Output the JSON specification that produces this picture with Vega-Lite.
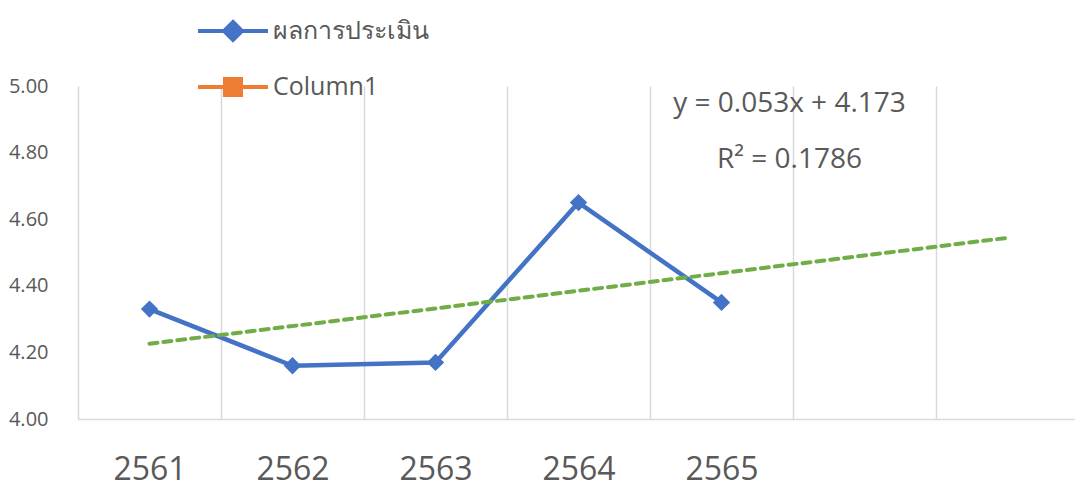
{
  "$schema": "https://vega.github.io/schema/vega-lite/v6.json",
  "autosize": {"type": "none"},
  "width": 1001,
  "height": 333,
  "padding": {"left": 78, "top": 86, "right": 0, "bottom": 68},
  "config": {"view": {"stroke": null}, "font": "Open Sans"},
  "datasets": {
    "scores": [
      {"year": 2561, "series": "ผลการประเมิน", "score": 4.33},
      {"year": 2562, "series": "ผลการประเมิน", "score": 4.16},
      {"year": 2563, "series": "ผลการประเมิน", "score": 4.17},
      {"year": 2564, "series": "ผลการประเมิน", "score": 4.65},
      {"year": 2565, "series": "ผลการประเมิน", "score": 4.35}
    ],
    "trend": [
      {"year": 2561, "trend": 4.226},
      {"year": 2567, "trend": 4.544}
    ],
    "labels": [
      {"equation": "y = 0.053x + 4.173", "r2": "R² = 0.1786"}
    ]
  },
  "layer": [
    {
      "data": {"name": "scores"},
      "mark": {"type": "line", "strokeWidth": 4.5, "strokeJoin": "round"},
      "encoding": {
        "x": {
          "field": "year", "type": "ordinal",
          "scale": {"type": "band", "domain": [2561, 2562, 2563, 2564, 2565, 2566, 2567], "paddingInner": 0, "paddingOuter": 0},
          "axis": {
            "title": null, "tickBand": "extent", "grid": true, "gridColor": "#D9D9D9", "gridWidth": 1.5,
            "domainColor": "#D9D9D9", "domainWidth": 1.5, "ticks": false, "labelAngle": 0,
            "labelExpr": "datum.value <= 2565 ? datum.label : ''",
            "labelFontSize": 32, "labelColor": "#595959", "labelPadding": 35, "labelFont": "Open Sans"
          }
        },
        "y": {
          "field": "score", "type": "quantitative",
          "scale": {"domain": [4, 5], "nice": false, "zero": false},
          "axis": {
            "title": null, "values": [4, 4.2, 4.4, 4.6, 4.8, 5], "format": ".2f", "grid": false,
            "domain": false, "ticks": false, "labelFontSize": 20, "labelColor": "#595959",
            "labelPadding": 30, "labelFont": "Open Sans"
          }
        },
        "color": {
          "field": "series", "type": "nominal",
          "scale": {"domain": ["ผลการประเมิน", "Column1"], "range": ["#4472C4", "#ED7D31"]},
          "legend": {
            "orient": "none", "legendX": 133, "legendY": -77, "title": null,
            "labelFontSize": 25, "labelColor": "#595959", "labelFont": "Open Sans",
            "symbolSize": 1600, "symbolStrokeWidth": 4, "labelOffset": 18, "rowPadding": 17,
            "encode": {
              "symbols": {
                "update": {
                  "shape": {"signal": "datum.value === 'Column1' ? 'M-1.75,0H1.75M-0.4,-0.4H0.4V0.4H-0.4Z' : 'M-1.75,0H1.75M0,-0.45L0.45,0L0,0.45L-0.45,0Z'"},
                  "fill": {"scale": "color", "field": "value"},
                  "stroke": {"scale": "color", "field": "value"},
                  "opacity": {"value": 1},
                  "fillOpacity": {"value": 1}
                }
              }
            }
          }
        }
      }
    },
    {
      "data": {"name": "scores"},
      "mark": {"type": "point", "shape": "diamond", "filled": true, "size": 300, "color": "#4472C4", "opacity": 1},
      "encoding": {
        "x": {"field": "year", "type": "ordinal"},
        "y": {"field": "score", "type": "quantitative"}
      }
    },
    {
      "data": {"name": "trend"},
      "mark": {"type": "line", "color": "#70AD47", "strokeWidth": 4, "strokeDash": [8, 6], "strokeCap": "round"},
      "encoding": {
        "x": {"field": "year", "type": "ordinal"},
        "y": {"field": "trend", "type": "quantitative"}
      }
    },
    {
      "data": {"name": "labels"},
      "mark": {"type": "text", "fontSize": 28, "color": "#595959", "baseline": "middle", "align": "center", "dx": -75, "font": "Open Sans"},
      "encoding": {
        "x": {"datum": 2566, "type": "ordinal"},
        "y": {"datum": 4.947, "type": "quantitative"},
        "text": {"field": "equation"}
      }
    },
    {
      "data": {"name": "labels"},
      "mark": {"type": "text", "fontSize": 28, "color": "#595959", "baseline": "middle", "align": "center", "dx": -75, "font": "Open Sans"},
      "encoding": {
        "x": {"datum": 2566, "type": "ordinal"},
        "y": {"datum": 4.779, "type": "quantitative"},
        "text": {"field": "r2"}
      }
    }
  ]
}
